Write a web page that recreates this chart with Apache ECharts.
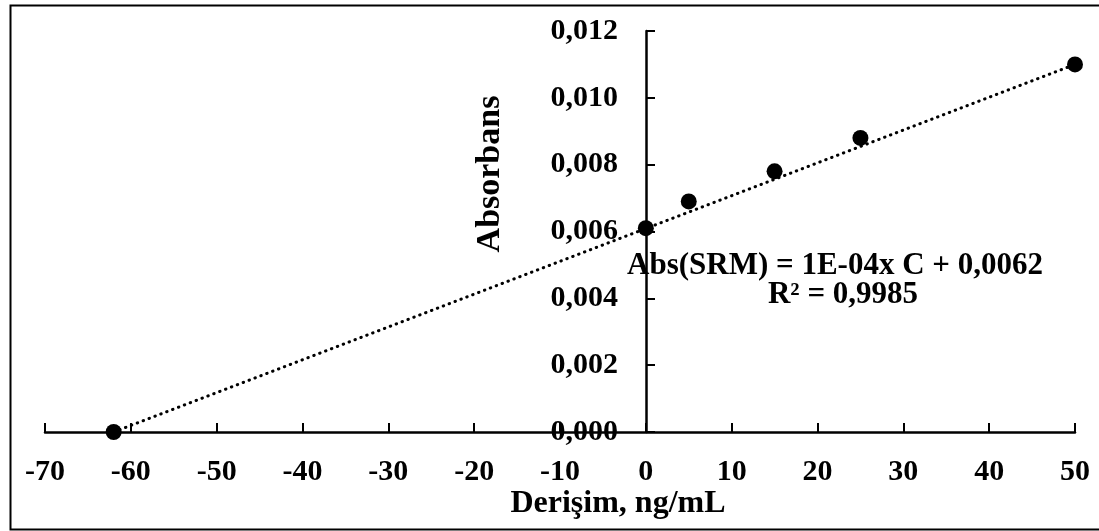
<!DOCTYPE html>
<html>
<head>
<meta charset="utf-8">
<script src="https://cdn.jsdelivr.net/npm/echarts@6/dist/echarts.min.js"></script>
<style>
  html, body { margin: 0; padding: 0; background: #fff; }
  #chart { width: 1099px; height: 531px; }
</style>
</head>
<body>
<div id="chart"></div>
<script>
// derişim (ng/mL) ve absorbans okumalari
var concValues = [-62, 0, 5, 15, 25, 50];
var absValues = [0.0000, 0.0061, 0.0069, 0.0078, 0.0088, 0.0110];
// trend cizgisi uclari
var trendX = [-62, 50];
var trendY = [0.0000, 0.0110];
var eqLine1 = 'Abs(SRM) = 1E-04x C + 0,0062';
var eqLine2 = 'R² = 0,9985';

var font = '"Liberation Serif", "Times New Roman", serif';

var chart = echarts.init(document.getElementById('chart'));

var points = concValues.map(function (x, i) { return [x, absValues[i]]; });
var trend = trendX.map(function (x, i) { return [x, trendY[i]]; });

var axisCommon = {
    splitLine: { show: false },
    axisLine: { show: true, onZero: false, lineStyle: { color: '#000', width: 2.5 } },
    axisTick: { show: true, inside: true, length: 9, lineStyle: { color: '#000', width: 2 } }
};

var option = {
    backgroundColor: '#fff',
    animation: false,
    // grid 0: tum cizim alani; grid 1: x=0'dan baslayan y ekseni icin
    grid: [
        { left: 45, right: 24, top: 31, bottom: 99, outerBoundsMode: 'none', containLabel: false },
        { left: 646, right: 24, top: 31, bottom: 99, outerBoundsMode: 'none', containLabel: false }
    ],
    xAxis: [
        echarts.util.merge({
            type: 'value', gridIndex: 0,
            min: -70, max: 50, interval: 10,
            axisLabel: {
                color: '#000', fontFamily: font, fontWeight: 'bold', fontSize: 30, margin: 25
            }
        }, axisCommon),
        {
            type: 'value', gridIndex: 1, min: 0, max: 50, show: false
        }
    ],
    yAxis: [
        {
            type: 'value', gridIndex: 0, min: 0, max: 0.012, interval: 0.002, show: false
        },
        echarts.util.merge({
            type: 'value', gridIndex: 1,
            min: 0, max: 0.012, interval: 0.002,
            axisLabel: {
                color: '#000', fontFamily: font, fontWeight: 'bold', fontSize: 30, margin: 28,
                formatter: function (v) { return v.toFixed(3).replace('.', ','); }
            }
        }, axisCommon)
    ],
    series: [
        {
            type: 'line',
            xAxisIndex: 0, yAxisIndex: 0,
            data: trend,
            symbol: 'none',
            z: 2,
            lineStyle: { color: '#000', width: 3, type: [0.5, 5.8], cap: 'round' }
        },
        {
            type: 'scatter',
            xAxisIndex: 0, yAxisIndex: 0,
            data: points,
            symbol: 'circle',
            symbolSize: 16,
            z: 3,
            itemStyle: { color: '#000', opacity: 1 }
        }
    ],
    graphic: [
        {
            type: 'rect', left: 8, top: 3, z: 0, silent: true,
            shape: { width: 1096, height: 524 },
            style: { fill: 'none', stroke: '#000', lineWidth: 2 }
        },
        {
            type: 'text', x: 490, y: 174, rotation: Math.PI / 2,
            style: {
                text: 'Absorbans', font: 'bold 34px ' + font, fill: '#000',
                textAlign: 'center', textVerticalAlign: 'middle'
            }
        },
        {
            type: 'text', x: 618, y: 504,
            style: {
                text: 'Derişim, ng/mL', font: 'bold 32px ' + font, fill: '#000',
                textAlign: 'center', textVerticalAlign: 'middle'
            }
        },
        {
            type: 'text', x: 835, y: 266, z: 10,
            style: {
                text: eqLine1, font: 'bold 31px ' + font, fill: '#000',
                textAlign: 'center', textVerticalAlign: 'middle'
            }
        },
        {
            type: 'text', x: 843, y: 295, z: 10,
            style: {
                text: eqLine2, font: 'bold 31px ' + font, fill: '#000',
                textAlign: 'center', textVerticalAlign: 'middle'
            }
        }
    ]
};

chart.setOption(option);
window.onresize = function () {
    chart.resize();
};
</script>
</body>
</html>
